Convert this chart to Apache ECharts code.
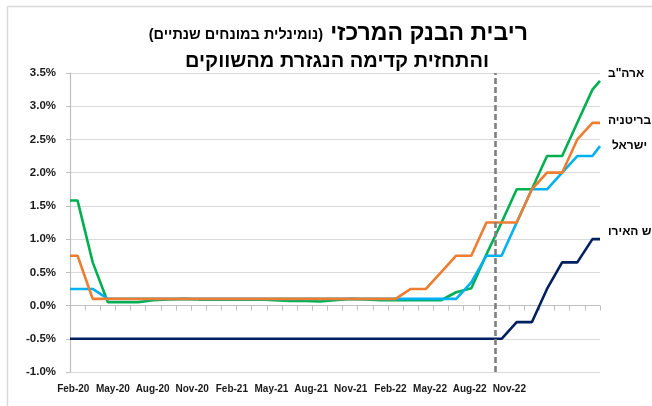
<!DOCTYPE html>
<html>
<head>
<meta charset="utf-8">
<script src="https://cdn.jsdelivr.net/npm/echarts@6.0.0/dist/echarts.min.js"></script>
<style>
  html, body { margin: 0; padding: 0; background: #fff; }
  #chart { width: 652px; height: 406px; }
</style>
</head>
<body>
<div id="chart"></div>
<script>
// x positions in months from Feb-20 (points sit mid-month, plus both edges)
const xPos = [0, 0.5, 1.5, 2.5, 3.5, 4.5, 5.5, 6.5, 7.5, 8.5, 9.5, 10.5, 11.5, 12.5,
  13.5, 14.5, 15.5, 16.5, 17.5, 18.5, 19.5, 20.5, 21.5, 22.5, 23.5, 24.5, 25.5,
  26.5, 27.5, 28.5, 29.5, 30.5, 31.5, 32.5, 33.5, 34.5, 35];

const usRate = [1.58, 1.58, 0.65, 0.05, 0.05, 0.05, 0.08, 0.09, 0.1, 0.09, 0.09, 0.09, 0.09, 0.09,
  0.08, 0.07, 0.07, 0.06, 0.08, 0.1, 0.09, 0.08, 0.08, 0.08, 0.08, 0.08, 0.2,
  0.26, 0.77, 1.25, 1.75, 1.75, 2.25, 2.25, 2.75, 3.25, 3.38];
const ukRate = [0.75, 0.75, 0.1, 0.1, 0.1, 0.1, 0.1, 0.1, 0.1, 0.1, 0.1, 0.1, 0.1, 0.1,
  0.1, 0.1, 0.1, 0.1, 0.1, 0.1, 0.1, 0.1, 0.1, 0.25, 0.25, 0.5, 0.75,
  0.75, 1.25, 1.25, 1.25, 1.75, 2.0, 2.0, 2.5, 2.75, 2.75];
const ilRate = [0.25, 0.25, 0.25, 0.1, 0.1, 0.1, 0.1, 0.1, 0.1, 0.1, 0.1, 0.1, 0.1, 0.1,
  0.1, 0.1, 0.1, 0.1, 0.1, 0.1, 0.1, 0.1, 0.1, 0.1, 0.1, 0.1, 0.1,
  0.35, 0.75, 0.75, 1.25, 1.75, 1.75, 2.0, 2.25, 2.25, 2.4];
const euRate = [-0.5, -0.5, -0.5, -0.5, -0.5, -0.5, -0.5, -0.5, -0.5, -0.5, -0.5, -0.5, -0.5, -0.5,
  -0.5, -0.5, -0.5, -0.5, -0.5, -0.5, -0.5, -0.5, -0.5, -0.5, -0.5, -0.5, -0.5,
  -0.5, -0.5, -0.5, -0.25, -0.25, 0.25, 0.65, 0.65, 1.0, 1.0];

const seriesNames = ['ארה"ב', 'ישראל', 'בריטניה', 'גוש האירו'];
const xLabels = ['Feb-20', 'May-20', 'Aug-20', 'Nov-20', 'Feb-21', 'May-21',
  'Aug-21', 'Nov-21', 'Feb-22', 'May-22', 'Aug-22', 'Nov-22'];
const forecastStart = 28.07; // dashed line: start of market forecast

const font = 'Liberation Sans, Arial, DejaVu Sans, sans-serif';

function pairs(vals) {
  return vals.map((v, i) => [xPos[i], v]);
}

function lineSeries(name, vals, color, offset) {
  return {
    name: name,
    type: 'line',
    xAxisIndex: 0,
    yAxisIndex: 0,
    data: pairs(vals),
    symbol: 'none',
    lineStyle: { color: color, width: 2.6 },
    itemStyle: { color: color },
    endLabel: {
      show: true,
      formatter: name,
      distance: 8,
      offset: offset,
      fontSize: 12,
      fontWeight: 'bold',
      fontFamily: font,
      color: '#000'
    },
    animation: false
  };
}

const chart = echarts.init(document.getElementById('chart'));

const series = [
  lineSeries(seriesNames[0], usRate, '#00B050', [0, -7]),
  lineSeries(seriesNames[1], ilRate, '#00B0F0', [4, 0]),
  lineSeries(seriesNames[2], ukRate, '#ED7D31', [0, -2]),
  lineSeries(seriesNames[3], euRate, '#002060', [0, -7])
];
series[3].markLine = {
  silent: true,
  symbol: 'none',
  label: { show: false },
  lineStyle: { color: '#7F7F7F', width: 2.6, type: [6, 3] },
  data: [{ xAxis: forecastStart }]
};

const titleStyle = { fontWeight: 'bold', color: '#000', fontFamily: font };

chart.setOption({
  animation: false,
  textStyle: { fontFamily: font },
  title: [
    {
      text: 'ריבית הבנק המרכזי',
      left: 528,
      top: 22,
      textAlign: 'right',
      padding: 0,
      textStyle: Object.assign({ fontSize: 23 }, titleStyle)
    },
    {
      text: '(נומינלית במונחים שנתיים)',
      left: 323,
      top: 27,
      textAlign: 'right',
      padding: 0,
      textStyle: Object.assign({ fontSize: 14.5 }, titleStyle)
    },
    {
      text: 'והתחזית קדימה הנגזרת מהשווקים',
      left: 337,
      top: 51,
      textAlign: 'center',
      padding: 0,
      textStyle: Object.assign({ fontSize: 20 }, titleStyle)
    }
  ],
  graphic: [
    {
      type: 'rect',
      shape: { x: 7.5, y: 6.5, width: 700, height: 450 },
      style: { fill: 'none', stroke: '#D9D9D9', lineWidth: 1.5 },
      z: -10
    }
  ],
  grid: [
    { left: 70, right: 52, top: 73, bottom: 34, outerBoundsMode: 'none' },
    { left: 73.3, right: 142.7, top: 371, height: 1, outerBoundsMode: 'none' }
  ],
  xAxis: [
    {
      type: 'value',
      gridIndex: 0,
      min: 0,
      max: 35,
      interval: 1,
      axisLine: { show: true, onZero: true, lineStyle: { color: '#BFBFBF', width: 1 } },
      axisTick: { show: true, length: 5, lineStyle: { color: '#BFBFBF', width: 1 } },
      axisLabel: { show: false },
      splitLine: { show: false }
    },
    {
      type: 'category',
      gridIndex: 1,
      data: xLabels,
      boundaryGap: false,
      axisLine: { show: false },
      axisTick: { show: false },
      axisLabel: {
        interval: 0,
        margin: 12,
        fontSize: 10,
        fontWeight: 'bold',
        color: '#1a1a1a',
        fontFamily: font
      }
    }
  ],
  yAxis: [
    {
      type: 'value',
      gridIndex: 0,
      min: -1,
      max: 3.5,
      interval: 0.5,
      axisLine: { show: true, lineStyle: { color: '#BFBFBF', width: 1.2 } },
      axisTick: { show: true, length: 4, lineStyle: { color: '#BFBFBF' } },
      axisLabel: {
        margin: 14,
        fontSize: 11.5,
        fontWeight: 'bold',
        color: '#1a1a1a',
        fontFamily: font,
        formatter: v => v.toFixed(1) + '%'
      },
      splitLine: { show: true, lineStyle: { color: '#D9D9D9', width: 1 } }
    },
    { type: 'value', gridIndex: 1, show: false }
  ],
  series: series
});
</script>
</body>
</html>
